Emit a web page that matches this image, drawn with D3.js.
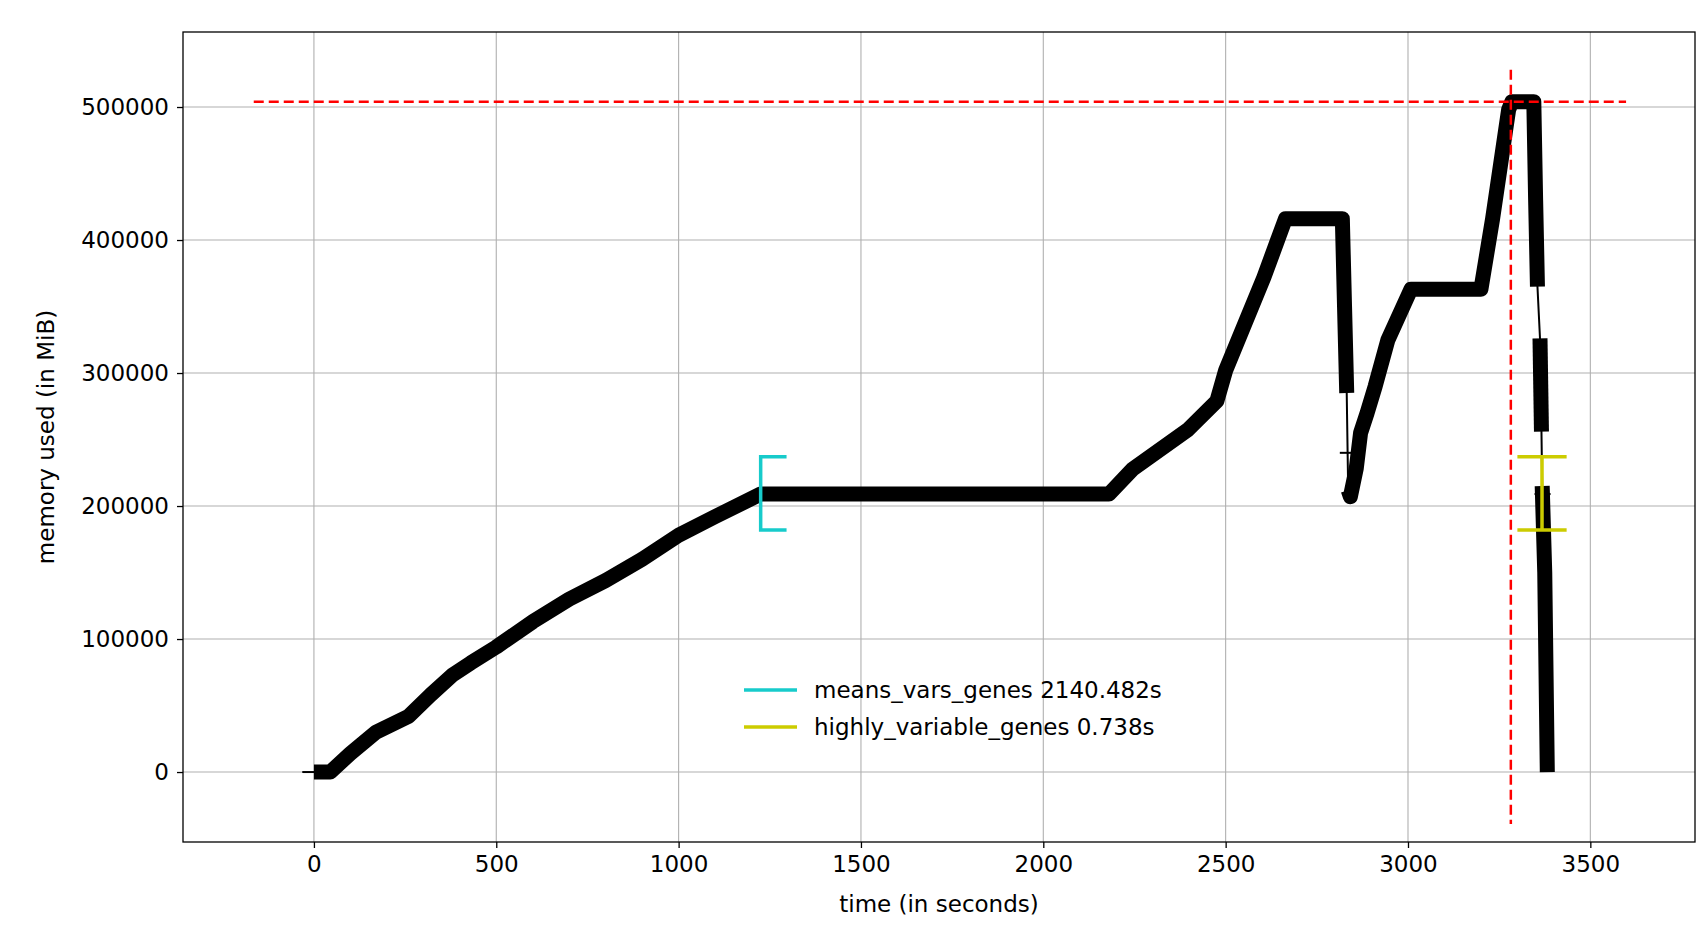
<!DOCTYPE html>
<html>
<head>
<meta charset="utf-8">
<script src="https://cdn.jsdelivr.net/npm/d3@7"></script>
<style>
  body { margin: 0; background: #fff; }
  text { font-family: "DejaVu Sans", sans-serif; }
</style>
</head>
<body>
<svg id="chart" width="1708" height="928"></svg>
<script>
'use strict';

// memory samples (time in s, memory in MiB)
var timeS = [0, 45, 100, 170, 260, 320, 380, 430, 500, 600, 700, 800, 900, 1000, 1100, 1225,
    2180, 2246, 2395, 2476, 2500, 2605, 2664, 2820, 2826, 2832,
    2836, 2842, 2858, 2870, 2888, 2910, 2945, 3008, 3200, 3232, 3276, 3285, 3345, 3350, 3355,
    3362, 3366, 3368, 3375, 3382];
var memMiB = [0, 0, 14000, 30000, 42000, 58000, 73000, 82000, 94000, 113000, 130000, 144000, 160000, 178000, 192000, 209000,
    209000, 228000, 257000, 279000, 302000, 372000, 416000, 416000, 350000, 285000,
    212000, 207000, 228000, 255000, 270000, 290000, 325000, 363000, 363000, 416000, 498000, 504000, 504000, 430000, 365000,
    326000, 256000, 215000, 150000, 0];
// segments after these indices have few samples (thin line only)
var sparseAfter = [25, 40, 42];
var loneMarks = [[-10, 0], [2835, 240000], [3369, 209000]];

var xTicks = [0, 500, 1000, 1500, 2000, 2500, 3000, 3500];
var yTicks = [0, 100000, 200000, 300000, 400000, 500000];

var peakMem = 504000, peakTime = 3282;
var funcs = [
    { name: "means_vars_genes", dur: "2140.482s", t0: 1225, t1: 1296, lo: 182000, hi: 237000, color: "#17cbcb", bracket: true },
    { name: "highly_variable_genes", dur: "0.738s", t0: 3300, t1: 3435, lo: 182000, hi: 237000, color: "#cccc00", bracket: false }
];

var margin = { left: 183, top: 32, right: 13, bottom: 86 };
var W = 1708, H = 928;
var iw = W - margin.left - margin.right, ih = H - margin.top - margin.bottom;
var fs = "23px";

var svg = d3.select("#chart");
var g = svg.append("g").attr("transform", "translate(" + margin.left + "," + margin.top + ")");

var x = d3.scaleLinear().domain([-359, 3787]).range([0, iw]);
var y = d3.scaleLinear().domain([-52600, 556400]).range([ih, 0]);

// grid
g.selectAll(".gx").data(xTicks).enter().append("line")
    .attr("x1", x).attr("x2", x).attr("y1", 0).attr("y2", ih)
    .attr("stroke", "#b0b0b0").attr("stroke-width", 1.1);
g.selectAll(".gy").data(yTicks).enter().append("line")
    .attr("y1", y).attr("y2", y).attr("x1", 0).attr("x2", iw)
    .attr("stroke", "#b0b0b0").attr("stroke-width", 1.1);

var pts = timeS.map(function(t, i) { return [t, memMiB[i]]; });
var line = d3.line().x(function(d) { return x(d[0]); }).y(function(d) { return y(d[1]); });

// thin line through everything
g.append("path").attr("d", line(pts)).attr("fill", "none")
    .attr("stroke", "#000").attr("stroke-width", 2);

// dense parts
var segs = [], cur = [];
pts.forEach(function(p, i) {
    cur.push(p);
    if (sparseAfter.indexOf(i) >= 0) { segs.push(cur); cur = []; }
});
segs.push(cur);
segs.forEach(function(s) {
    g.append("path").attr("d", line(s)).attr("fill", "none")
        .attr("stroke", "#000").attr("stroke-width", 15)
        .attr("stroke-linejoin", "round");
});

g.selectAll(".mk").data(loneMarks).enter().append("path")
    .attr("d", function(d) {
        var cx = x(d[0]), cy = y(d[1]);
        return "M" + (cx - 8) + "," + cy + "H" + (cx + 8);
    })
    .attr("stroke", "#000").attr("stroke-width", 2);

// peak lines
g.append("line")
    .attr("x1", x(-165)).attr("x2", x(3598)).attr("y1", y(peakMem)).attr("y2", y(peakMem))
    .attr("stroke", "red").attr("stroke-width", 2.5).attr("stroke-dasharray", "10,5");
g.append("line")
    .attr("x1", x(peakTime)).attr("x2", x(peakTime)).attr("y1", y(528000)).attr("y2", y(-39000))
    .attr("stroke", "red").attr("stroke-width", 2.5).attr("stroke-dasharray", "10,5");

// function markers
funcs.forEach(function(f) {
    var p;
    if (f.bracket) {
        p = "M" + x(f.t1) + "," + y(f.hi) + "H" + x(f.t0) + "V" + y(f.lo) + "H" + x(f.t1);
    } else {
        var cx = (x(f.t0) + x(f.t1)) / 2;
        p = "M" + x(f.t0) + "," + y(f.hi) + "H" + x(f.t1) +
            "M" + x(f.t0) + "," + y(f.lo) + "H" + x(f.t1) +
            "M" + cx + "," + y(f.hi) + "V" + y(f.lo);
    }
    g.append("path").attr("d", p).attr("fill", "none")
        .attr("stroke", f.color).attr("stroke-width", 3.5);
});

// frame
g.append("rect").attr("width", iw).attr("height", ih)
    .attr("fill", "none").attr("stroke", "#000").attr("stroke-width", 1.3);

// axes
var xa = g.append("g").attr("transform", "translate(0," + ih + ")")
    .call(d3.axisBottom(x).tickValues(xTicks).tickSize(6).tickPadding(8).tickFormat(d3.format("d")));
var ya = g.append("g")
    .call(d3.axisLeft(y).tickValues(yTicks).tickSize(6).tickPadding(8).tickFormat(d3.format("d")));
[xa, ya].forEach(function(a) {
    a.select(".domain").remove();
    a.selectAll("line").attr("stroke-width", 1.3);
    a.selectAll("text").style("font-size", fs).attr("fill", "#000");
});

svg.append("text").attr("x", margin.left + iw / 2).attr("y", 912)
    .attr("text-anchor", "middle").style("font-size", fs).text("time (in seconds)");
svg.append("text").attr("transform", "translate(54," + (margin.top + ih / 2) + ") rotate(-90)")
    .attr("text-anchor", "middle").style("font-size", fs).text("memory used (in MiB)");

// legend
var lg = svg.append("g").attr("transform", "translate(744,690)");
funcs.forEach(function(f, i) {
    var ly = i * 37;
    lg.append("line").attr("x1", 0).attr("x2", 53).attr("y1", ly).attr("y2", ly)
        .attr("stroke", f.color).attr("stroke-width", 3.5);
    lg.append("text").attr("x", 70).attr("y", ly + 8).style("font-size", fs)
        .text(f.name + " " + f.dur);
});
</script>
</body>
</html>
